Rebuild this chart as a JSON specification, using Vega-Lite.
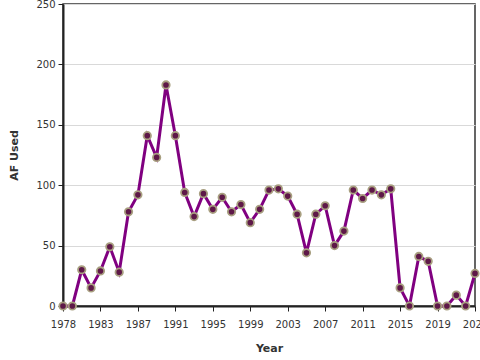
{
  "$schema": "https://vega.github.io/schema/vega-lite/v6.json",
  "autosize": "none",
  "width": 412,
  "height": 302,
  "padding": {"left": 63, "top": 4, "right": 5, "bottom": 54},
  "background": "white",
  "config": {
    "font": "DejaVu Sans",
    "view": {"stroke": "#333", "strokeWidth": 1.5},
    "axis": {
      "labelFont": "DejaVu Sans",
      "titleFont": "DejaVu Sans",
      "labelFontSize": 10,
      "titleFontSize": 11,
      "titleFontWeight": "bold",
      "labelColor": "#333",
      "titleColor": "#333",
      "domainColor": "#222",
      "domainWidth": 2,
      "tickColor": "#222",
      "tickSize": 5,
      "gridColor": "#d9d9d9"
    }
  },
  "data": {
    "values": [
      {"Year": 1978, "AF": 0}, {"Year": 1979, "AF": 0}, {"Year": 1980, "AF": 30},
      {"Year": 1981, "AF": 15}, {"Year": 1982, "AF": 29}, {"Year": 1983, "AF": 49},
      {"Year": 1984, "AF": 28}, {"Year": 1985, "AF": 78}, {"Year": 1986, "AF": 92},
      {"Year": 1987, "AF": 141}, {"Year": 1988, "AF": 123}, {"Year": 1989, "AF": 183},
      {"Year": 1990, "AF": 141}, {"Year": 1991, "AF": 94}, {"Year": 1992, "AF": 74},
      {"Year": 1993, "AF": 93}, {"Year": 1994, "AF": 80}, {"Year": 1995, "AF": 90},
      {"Year": 1996, "AF": 78}, {"Year": 1997, "AF": 84}, {"Year": 1998, "AF": 69},
      {"Year": 1999, "AF": 80}, {"Year": 2000, "AF": 96}, {"Year": 2001, "AF": 97},
      {"Year": 2002, "AF": 91}, {"Year": 2003, "AF": 76}, {"Year": 2004, "AF": 44},
      {"Year": 2005, "AF": 76}, {"Year": 2006, "AF": 83}, {"Year": 2007, "AF": 50},
      {"Year": 2008, "AF": 62}, {"Year": 2009, "AF": 96}, {"Year": 2010, "AF": 89},
      {"Year": 2011, "AF": 96}, {"Year": 2012, "AF": 92}, {"Year": 2013, "AF": 97},
      {"Year": 2014, "AF": 15}, {"Year": 2015, "AF": 0}, {"Year": 2016, "AF": 41},
      {"Year": 2017, "AF": 37}, {"Year": 2018, "AF": 0}, {"Year": 2019, "AF": 0},
      {"Year": 2020, "AF": 9}, {"Year": 2021, "AF": 0}, {"Year": 2022, "AF": 27}
    ]
  },
  "encoding": {
    "x": {
      "field": "Year",
      "type": "quantitative",
      "scale": {"domain": [1978, 2022], "nice": false, "zero": false},
      "axis": {
        "title": "Year",
        "grid": false,
        "values": [1978, 1982, 1986, 1990, 1994, 1998, 2002, 2006, 2010, 2014, 2018, 2022],
        "labelExpr": "datum.value == 1978 || datum.value == 2022 ? toString(datum.value) : toString(datum.value + 1)",
        "labelPadding": 8,
        "labelBound": false,
        "labelOverlap": false,
        "labelFlush": false,
        "titlePadding": 13
      }
    },
    "y": {
      "field": "AF",
      "type": "quantitative",
      "scale": {"domain": [0, 250], "nice": false},
      "axis": {
        "title": "AF Used",
        "values": [0, 50, 100, 150, 200, 250],
        "grid": true,
        "labelPadding": 3,
        "titlePadding": 16
      }
    }
  },
  "layer": [
    {"mark": {"type": "line", "color": "#800080", "strokeWidth": 3, "clip": false}},
    {"mark": {"type": "point", "filled": true, "fill": "#5e1848", "stroke": "#a89f80", "strokeWidth": 1.8, "size": 55, "opacity": 1, "clip": false}}
  ]
}
